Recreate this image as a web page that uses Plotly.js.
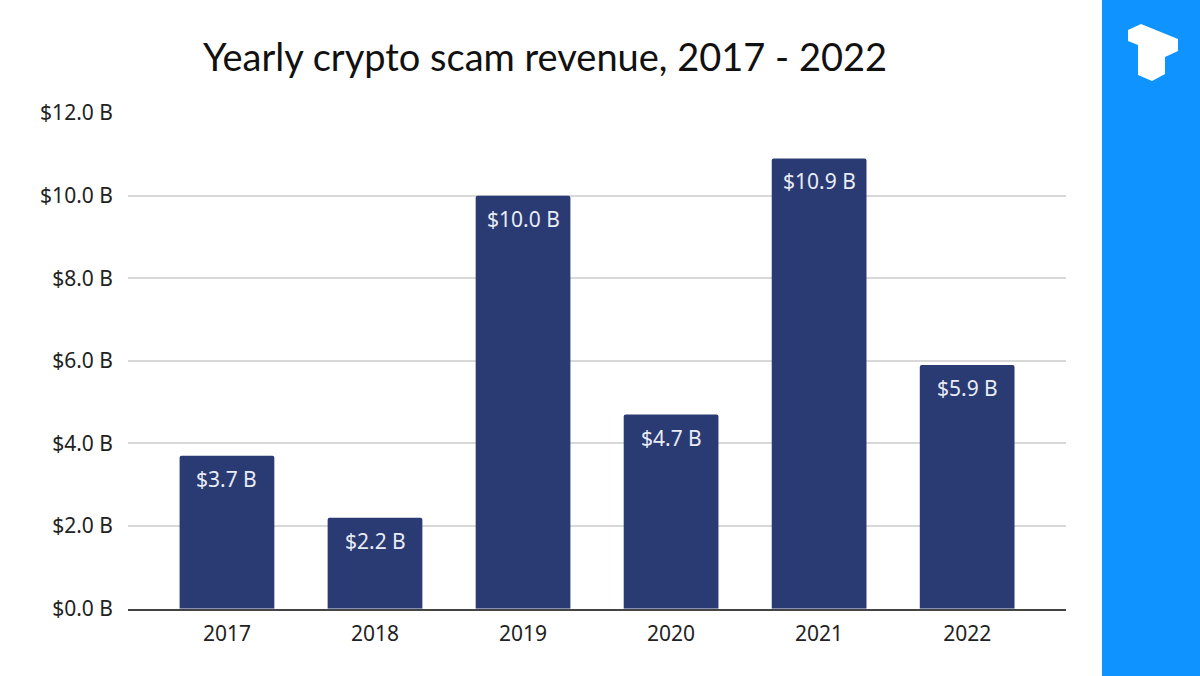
<!DOCTYPE html>
<html><head><meta charset="utf-8">
<script src="https://cdn.plot.ly/plotly-3.0.1.min.js"></script>
<style>html,body{margin:0;padding:0;background:#fff;overflow:hidden}#c{width:1200px;height:676px}</style>
</head><body><div id="c"></div>
<script>
const years = ["2017","2018","2019","2020","2021","2022"];
const revenue = [3.7,2.2,10.0,4.7,10.9,5.9];
const valueLabels = ["$3.7 B","$2.2 B","$10.0 B","$4.7 B","$10.9 B","$5.9 B"];
const tickValues = [0,2,4,6,8,10,12];
const tickLabels = ["$0.0 B","$2.0 B","$4.0 B","$6.0 B","$8.0 B","$10.0 B","$12.0 B"];
const font = "'Noto Sans', sans-serif";
const titleFont = "Lato, sans-serif";
const W = 1200, H = 676;
const logo = [[1141,24],[1128,30],[1128,41],[1138,45],[1138,75],[1152,81],[1165,74],[1165,57],[1178,51],[1178,39]];
const logoPath = logo.map((p,i)=>(i?"L ":"M ")+(p[0]/W)+" "+(1-p[1]/H)).join(" ")+" Z";
Plotly.newPlot("c",[{
  type:"bar",x:years,y:revenue,
  marker:{color:"#2a3a72",cornerradius:2},width:0.64,hoverinfo:"none"
}],{
  width:W,height:H,margin:{l:0,r:0,t:0,b:0},
  paper_bgcolor:"#fff",plot_bgcolor:"#fff",showlegend:false,
  title:{text:"Yearly crypto scam revenue, 2017 - 2022",font:{family:titleFont,size:38,color:"#111"},x:0.4542,xanchor:"center",y:0.915,yanchor:"middle"},
  xaxis:{domain:[0.1066,0.8885],type:"category",range:[-0.669,5.669],tickfont:{family:font,size:21,color:"#222"},ticks:"",showgrid:false,showline:true,linecolor:"#444",linewidth:2,zeroline:false,fixedrange:true,ticklabelstandoff:5},
  yaxis:{domain:[0.0996,0.8328],range:[0,12],tickvals:tickValues,ticktext:tickLabels,tickfont:{family:font,size:21,color:"#222"},ticks:"",gridcolor:"#d8d8d8",gridwidth:2,zeroline:false,fixedrange:true,ticklabelstandoff:14},
  annotations:years.map((yr,i)=>({x:i,y:revenue[i],xref:"x",yref:"y",text:valueLabels[i],showarrow:false,yanchor:"middle",yshift:-23,font:{family:font,size:21,color:"#e8ecf6"}})),
  shapes:[
    {type:"rect",xref:"paper",yref:"paper",x0:0.9183,x1:1,y0:0,y1:1,fillcolor:"#0f94ff",line:{width:0},layer:"above"},
    {type:"path",xref:"paper",yref:"paper",path:logoPath,fillcolor:"#fff",line:{width:0},layer:"above"}
  ]
},{staticPlot:true,displayModeBar:false});
</script></body></html>
